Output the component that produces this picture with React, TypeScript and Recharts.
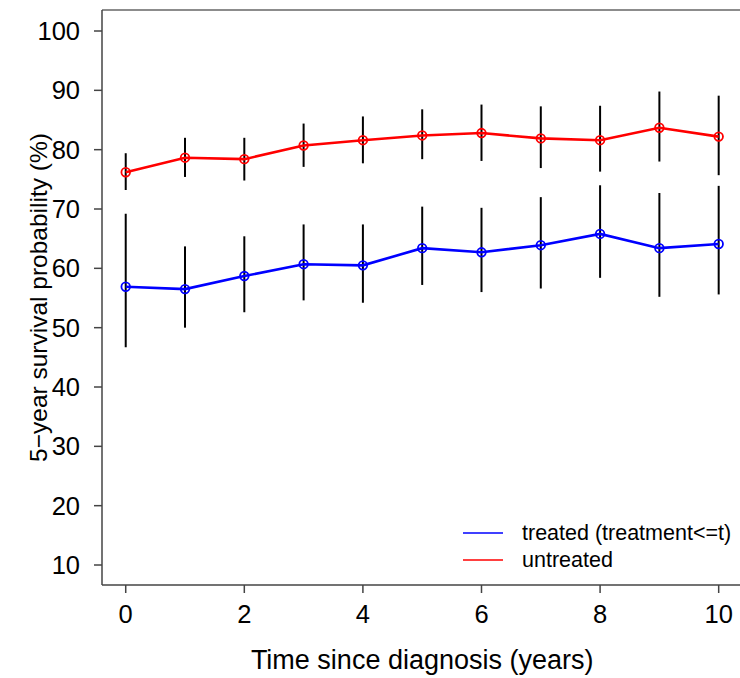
import {
  ComposedChart,
  Line,
  XAxis,
  YAxis,
  ErrorBar,
  ReferenceLine,
} from "recharts";

const years = [0, 1, 2, 3, 4, 5, 6, 7, 8, 9, 10];

const treated = [56.9, 56.5, 58.7, 60.7, 60.5, 63.4, 62.7, 63.9, 65.8, 63.4, 64.1];
const treatedLow = [46.7, 50.0, 52.6, 54.6, 54.2, 57.2, 56.0, 56.6, 58.4, 55.2, 55.6];
const treatedHigh = [69.2, 63.7, 65.4, 67.4, 67.4, 70.4, 70.2, 72.0, 74.0, 72.7, 73.9];

const untreated = [76.2, 78.65, 78.4, 80.7, 81.6, 82.4, 82.8, 81.9, 81.6, 83.7, 82.2];
const untreatedLow = [73.2, 75.4, 74.8, 77.1, 77.7, 78.4, 78.1, 76.9, 76.3, 78.0, 75.7];
const untreatedHigh = [79.4, 82.0, 82.0, 84.4, 85.6, 86.8, 87.6, 87.3, 87.4, 89.8, 89.1];

const legendLabels = ["treated (treatment<=t)", "untreated"];
const legendColors = ["#0000ff", "#ff0000"];

const xTicks = [0, 2, 4, 6, 8, 10];
const yTicks = [10, 20, 30, 40, 50, 60, 70, 80, 90, 100];

const X_DOMAIN: [number, number] = [-0.4, 10.4];
const Y_DOMAIN: [number, number] = [6.63, 103.54];

const data = years.map((t, i) => ({
  t,
  treated: treated[i],
  untreated: untreated[i],
  treatedErr: [treated[i] - treatedLow[i], treatedHigh[i] - treated[i]],
  untreatedErr: [untreated[i] - untreatedLow[i], untreatedHigh[i] - untreated[i]],
}));

const font = "'Liberation Sans', Arial, Helvetica, sans-serif";
const axisColor = "#444";

// legend drawn over the chart (recharts Legend would steal plot height)
const LegendBox = () => (
  <svg
    width={290}
    height={60}
    style={{ position: "absolute", left: 460, top: 520, fontFamily: font }}
  >
    {legendLabels.map((lab, i) => (
      <g key={lab}>
        <line x1={3} x2={43} y1={13 + i * 27} y2={13 + i * 27} stroke={legendColors[i]} strokeWidth={1.5} />
        <text x={62} y={13 + i * 27} dominantBaseline="central" fontSize={21.5} fill="#000">
          {lab}
        </text>
      </g>
    ))}
  </svg>
);

const YTitle = (props: any) => {
  const vb = props.viewBox || { x: 0, y: 0, width: 0, height: 0 };
  const cx = 38;
  const cy = vb.y + vb.height / 2;
  return (
    <text
      x={cx}
      y={cy}
      transform={`rotate(-90 ${cx} ${cy})`}
      textAnchor="middle"
      dominantBaseline="central"
      fontSize={24.5}
      fill="#000"
      fontFamily={font}
    >
      5−year survival probability (%)
    </text>
  );
};

export default function App() {
  return (
    <div
      style={{
        position: "absolute",
        left: 0,
        top: 0,
        width: 740,
        height: 678,
        overflow: "hidden",
        background: "#fff",
      }}
    >
      <ComposedChart
        width={745}
        height={678}
        data={data}
        margin={{ top: 10, right: 2.6, bottom: 0, left: 0 }}
        style={{ fontFamily: font }}
      >
        <XAxis
          dataKey="t"
          type="number"
          domain={X_DOMAIN}
          ticks={xTicks}
          allowDataOverflow
          height={93}
          tickSize={8}
          tickMargin={12}
          stroke={axisColor}
          strokeWidth={1.5}
          tick={{ fill: "#000", fontSize: 25.5 }}
          label={{
            value: "Time since diagnosis (years)",
            position: "insideBottom",
            offset: 9,
            fill: "#000",
            fontSize: 27,
          }}
        />
        <YAxis
          type="number"
          domain={Y_DOMAIN}
          ticks={yTicks}
          allowDataOverflow
          width={102}
          tickSize={8}
          tickMargin={14}
          stroke={axisColor}
          strokeWidth={1.5}
          tick={{ fill: "#000", fontSize: 25.5 }}
          label={{ content: YTitle }}
        />
        <ReferenceLine y={Y_DOMAIN[1]} stroke="#666" strokeWidth={1.5} />
        <ReferenceLine x={X_DOMAIN[1]} stroke="#666" strokeWidth={1.5} />
        <Line
          dataKey="treated"
          stroke="#0000ff"
          strokeWidth={2.6}
          isAnimationActive={false}
          dot={{ r: 4.3, fill: "none", stroke: "#0000ff", strokeWidth: 1.8 }}
          activeDot={false}
        >
          <ErrorBar dataKey="treatedErr" width={0} stroke="#000" strokeWidth={2} direction="y" />
        </Line>
        <Line
          dataKey="untreated"
          stroke="#ff0000"
          strokeWidth={2.6}
          isAnimationActive={false}
          dot={{ r: 4.3, fill: "none", stroke: "#ff0000", strokeWidth: 1.8 }}
          activeDot={false}
        >
          <ErrorBar dataKey="untreatedErr" width={0} stroke="#000" strokeWidth={2} direction="y" />
        </Line>
      </ComposedChart>
      <LegendBox />
    </div>
  );
}
